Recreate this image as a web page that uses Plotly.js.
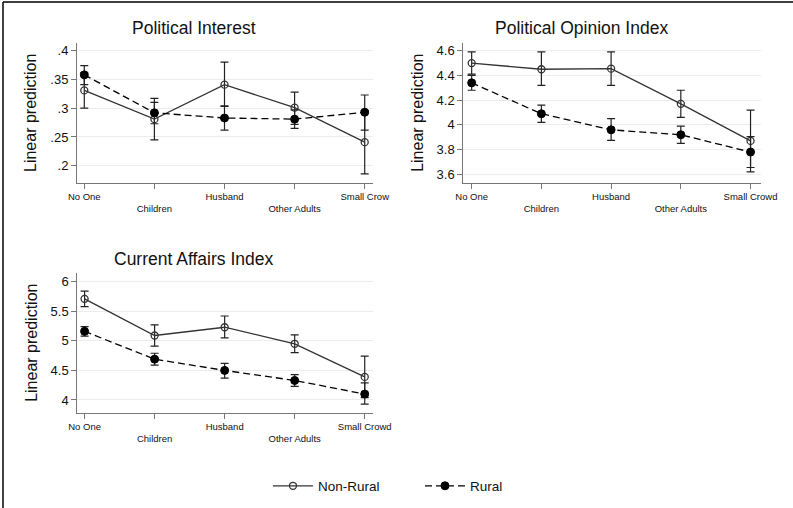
<!DOCTYPE html>
<html>
<head>
<meta charset="utf-8">
<script src="https://cdn.plot.ly/plotly-3.0.1.min.js"></script>
<style>html,body{margin:0;padding:0;background:#fff;}#chart{width:793px;height:508px;}</style>
</head>
<body>
<div id="chart"></div>
<script>
const categories = ['No One', 'Children', 'Husband', 'Other Adults', 'Small Crowd'];
const tickLabelsP1 = ['No One', '<br>Children', 'Husband', '<br>Other Adults', 'Small Crow'];
const tickLabels = ['No One', '<br>Children', 'Husband', '<br>Other Adults', 'Small Crowd'];

// Political Interest
const piNonRural   = [0.331, 0.281, 0.341, 0.301, 0.241];
const piNonRuralLo = [0.300, 0.245, 0.303, 0.272, 0.186];
const piNonRuralHi = [0.362, 0.317, 0.380, 0.328, 0.296];
const piRural      = [0.358, 0.292, 0.283, 0.281, 0.293];
const piRuralLo    = [0.341, 0.273, 0.262, 0.265, 0.262];
const piRuralHi    = [0.374, 0.310, 0.304, 0.297, 0.323];
const piTickVals = [0.2, 0.25, 0.3, 0.35, 0.4];
const piTickText = ['.2', '.25', '.3', '.35', '.4'];

// Political Opinion Index
const poNonRural   = [4.50, 4.45, 4.455, 4.17, 3.87];
const poNonRuralLo = [4.41, 4.32, 4.32, 4.06, 3.62];
const poNonRuralHi = [4.59, 4.59, 4.59, 4.28, 4.12];
const poRural      = [4.34, 4.09, 3.96, 3.92, 3.78];
const poRuralLo    = [4.28, 4.02, 3.875, 3.85, 3.655];
const poRuralHi    = [4.40, 4.16, 4.05, 3.99, 3.905];
const poTickVals = [3.6, 3.8, 4, 4.2, 4.4, 4.6];
const poTickText = ['3.6', '3.8', '4', '4.2', '4.4', '4.6'];

// Current Affairs Index
const caNonRural   = [5.71, 5.09, 5.23, 4.95, 4.39];
const caNonRuralLo = [5.58, 4.91, 5.05, 4.80, 4.04];
const caNonRuralHi = [5.84, 5.27, 5.42, 5.10, 4.74];
const caRural      = [5.16, 4.69, 4.50, 4.33, 4.10];
const caRuralLo    = [5.08, 4.59, 4.37, 4.23, 3.93];
const caRuralHi    = [5.24, 4.79, 4.62, 4.43, 4.29];
const caTickVals = [4, 4.5, 5, 5.5, 6];
const caTickText = ['4', '4.5', '5', '5.5', '6'];

const FONT = 'Liberation Sans, Arial, sans-serif';
const xIdx = categories.map((c, i) => i);

function series(vals, lo, hi, rural, xa, ya, showLeg) {
  return {
    type: 'scatter', mode: 'lines+markers',
    x: xIdx, y: vals, xaxis: xa, yaxis: ya,
    name: rural ? 'Rural' : 'Non-Rural',
    showlegend: showLeg,
    line: rural ? {color: '#000', width: 1.3, dash: '7px,4px'} : {color: '#333', width: 1.3},
    marker: rural ? {symbol: 'circle', size: 8, color: '#000', line: {color: '#000', width: 1}}
                  : {symbol: 'circle-open', size: 7, color: '#333', line: {color: '#333', width: 1.3}},
    error_y: {type: 'data', symmetric: false,
      array: hi.map((h, i) => h - vals[i]),
      arrayminus: lo.map((l, i) => vals[i] - l),
      color: '#222', thickness: 1.2, width: 4}
  };
}

const data = [
  series(piNonRural, piNonRuralLo, piNonRuralHi, false, 'x', 'y', true),
  series(piRural, piRuralLo, piRuralHi, true, 'x', 'y', true),
  series(poNonRural, poNonRuralLo, poNonRuralHi, false, 'x2', 'y2', false),
  series(poRural, poRuralLo, poRuralHi, true, 'x2', 'y2', false),
  series(caNonRural, caNonRuralLo, caNonRuralHi, false, 'x3', 'y3', false),
  series(caRural, caRuralLo, caRuralHi, true, 'x3', 'y3', false)
];

function xAxis(domain, anchor, labels, range) {
  return {domain: domain, anchor: anchor, range: range,
    tickmode: 'array', tickvals: xIdx, ticktext: labels,
    tickfont: {family: FONT, size: 9.5, color: '#111'},
    ticks: 'outside', ticklen: 5, tickcolor: '#777', tickwidth: 1,
    showline: true, linecolor: '#777', linewidth: 1,
    showgrid: false, zeroline: false, fixedrange: true};
}
function yAxis(domain, anchor, range, tv, tt) {
  return {domain: domain, anchor: anchor, range: range,
    tickmode: 'array', tickvals: tv, ticktext: tt,
    tickfont: {family: FONT, size: 13, color: '#111'},
    ticks: 'outside', ticklen: 5, tickcolor: '#777', tickwidth: 1,
    showline: true, linecolor: '#777', linewidth: 1,
    showgrid: true, gridcolor: '#ececec', gridwidth: 1, zeroline: false,
    title: {text: 'Linear prediction', font: {family: FONT, size: 16, color: '#111'}, standoff: 9},
    fixedrange: true};
}

const layout = {
  width: 793, height: 508,
  margin: {l: 0, r: 0, t: 0, b: 0},
  paper_bgcolor: '#fff', plot_bgcolor: '#fff',
  font: {family: FONT, color: '#111'},
  xaxis: xAxis([77/793, 372.7/793], 'y', tickLabelsP1, [-0.104, 4.114]),
  yaxis: yAxis([1-182.7/508, 1-43/508], 'x', [0.1705, 0.4134], piTickVals, piTickText),
  xaxis2: xAxis([463.3/793, 761/793], 'y2', tickLabels, [-0.12, 4.15]),
  yaxis2: yAxis([1-182.7/508, 1-42.7/508], 'x2', [3.532, 4.665], poTickVals, poTickText),
  xaxis3: xAxis([77.3/793, 372.7/793], 'y3', tickLabels, [-0.104, 4.114]),
  yaxis3: yAxis([1-412.7/508, 1-272.7/508], 'x3', [3.785, 6.152], caTickVals, caTickText),
  annotations: [
    {text: 'Political Interest', xref: 'paper', yref: 'paper', x: 194/793, y: 1-28/508, showarrow: false, xanchor: 'center', yanchor: 'middle', font: {family: FONT, size: 17.5, color: '#111'}},
    {text: 'Political Opinion Index', xref: 'paper', yref: 'paper', x: 581/793, y: 1-28/508, showarrow: false, xanchor: 'center', yanchor: 'middle', font: {family: FONT, size: 17.5, color: '#111'}},
    {text: 'Current Affairs Index', xref: 'paper', yref: 'paper', x: 193/793, y: 1-259/508, showarrow: false, xanchor: 'center', yanchor: 'middle', font: {family: FONT, size: 17.5, color: '#111'}}
  ],
  shapes: [
    {type: 'line', xref: 'paper', yref: 'paper', x0: 3/793, x1: 3/793, y0: 0, y1: 1-2/508, line: {color: '#000', width: 1.5}},
    {type: 'line', xref: 'paper', yref: 'paper', x0: 3/793, x1: 1, y0: 1-2/508, y1: 1-2/508, line: {color: '#000', width: 1.5}}
  ],
  showlegend: true,
  legend: {orientation: 'h', x: 0.5296, xanchor: 'center', y: 1-486/508, yanchor: 'middle',
    font: {family: FONT, size: 13.5, color: '#111'}, bgcolor: 'rgba(0,0,0,0)', itemwidth: 40,
    entrywidth: 97, entrywidthmode: 'pixels', tracegroupgap: 0}
};

Plotly.newPlot('chart', data, layout, {displayModeBar: false, staticPlot: true});
</script>
</body>
</html>
